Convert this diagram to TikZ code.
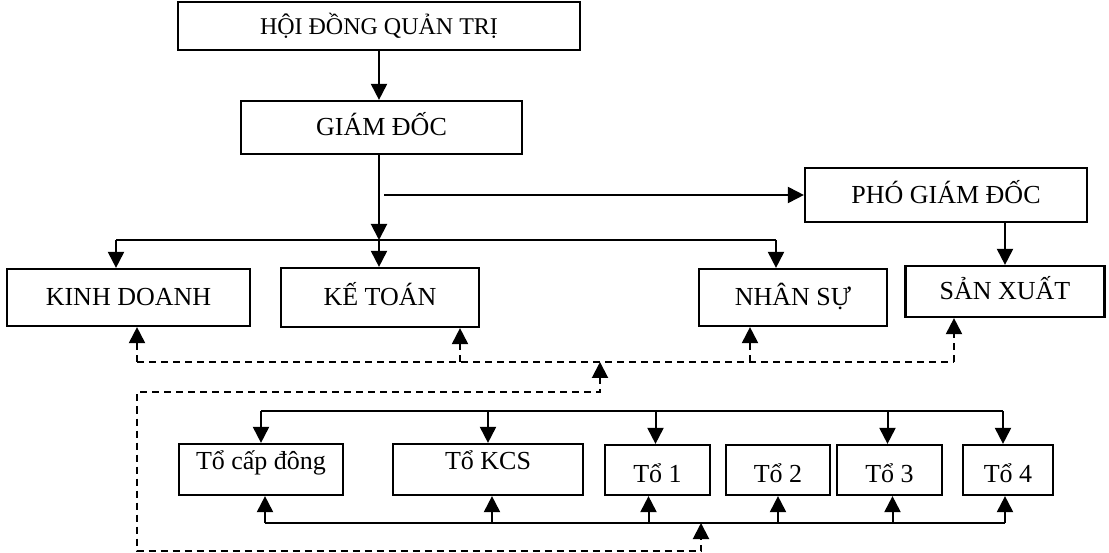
\documentclass[tikz,border=0pt]{standalone}
\usepackage{fontspec}
\setmainfont{Liberation Serif}
\usetikzlibrary{arrows.meta}
\begin{document}
\begin{tikzpicture}[x=1pt, y=-1pt, line width=2pt,
    >={Triangle[length=16pt,width=16pt]},
    box/.style={draw, line width=2.2pt, inner sep=0pt, text height=17pt, text depth=0pt,
      font=\fontsize{26}{30}\selectfont},
    tobox/.style={box, minimum height=50, text height=24pt},
    topbox/.style={box, minimum height=51, text height=12pt, text depth=12pt},
    dline/.style={dash pattern=on 7pt off 5pt}]
\useasboundingbox (0,0) rectangle (1109,553);

\node[box, minimum width=402, minimum height=48, font=\fontsize{24}{28}\selectfont] (hdqt) at (379,26) {HỘI ĐỒNG QUẢN TRỊ};
\node[box, minimum width=281, minimum height=53] (gd) at (381.5,127.5) {GIÁM ĐỐC};
\node[box, minimum width=282, minimum height=54] (pgd) at (946,195) {PHÓ GIÁM ĐỐC};
\node[box, minimum width=243, minimum height=57] (kd) at (128.5,297.5) {KINH DOANH};
\node[box, minimum width=198, minimum height=59] (kt) at (380,297.5) {KẾ TOÁN};
\node[box, minimum width=188, minimum height=57] (ns) at (793,297.5) {NHÂN SỰ};
\node[box, minimum width=199, minimum height=51] (sx) at (1005,291.5) {SẢN XUẤT};

\node[topbox, minimum width=164] (tcd) at (261,469.5) {Tổ cấp đông};
\node[topbox, minimum width=190] (tkcs) at (488,469.5) {Tổ KCS};
\node[tobox, minimum width=105] (to1) at (657.5,470) {Tổ 1};
\node[tobox, minimum width=104] (to2) at (778,470) {Tổ 2};
\node[tobox, minimum width=105] (to3) at (889.5,470) {Tổ 3};
\node[tobox, minimum width=90] (to4) at (1008,470) {Tổ 4};

\coordinate (bus) at (379,240);
\coordinate (busL) at (116,240);
\coordinate (busR) at (776,240);
\coordinate (split) at (384,195);

\draw[->] (hdqt.south) -- (hdqt.south |- gd.north);
\draw[->] (bus |- gd.south) -- (bus);
\draw[->] (split) -- (pgd.west);
\draw (busL) -- (busR);
\draw[->] (busL) -- (busL |- kd.north);
\draw[->] (bus) -- (bus |- kt.north);
\draw[->] (busR) -- (busR |- ns.north);
\draw[->] (sx.north |- pgd.south) -- (sx.north);

\coordinate (dkd) at (137,362);
\coordinate (dkt) at (460,362);
\coordinate (dns) at (750,362);
\coordinate (dsx) at (954,362);
\coordinate (fup) at (600,362);
\coordinate (flo) at (701,523);

\draw[dline] (dkd) -- (dsx);
\foreach \c/\n in {dkd/kd, dkt/kt, dns/ns, dsx/sx}
  \draw[dline, ->] (\c) -- (\c |- \n.south);
\draw[dline, <->] (fup) -- ++(0,30) -| ++(-463,159) -| (flo);

\coordinate (tbus) at (0,411);
\coordinate (bbus) at (0,523);
\draw (tcd.north |- tbus) -- ([xshift=-5]to4.north |- tbus);
\foreach \n/\d in {tcd/0, tkcs/0, to1/-2, to3/-2, to4/-5}
  \draw[->] ([xshift=\d]\n.north |- tbus) -- ([xshift=\d]\n.north);
\draw ([xshift=4]tcd.south |- bbus) -- ([xshift=-3]to4.south |- bbus);
\foreach \n/\d in {tcd/4, tkcs/4, to1/-9, to2/0, to3/3, to4/-3}
  \draw[->] ([xshift=\d]\n.south |- bbus) -- ([xshift=\d]\n.south);
\end{tikzpicture}
\end{document}
